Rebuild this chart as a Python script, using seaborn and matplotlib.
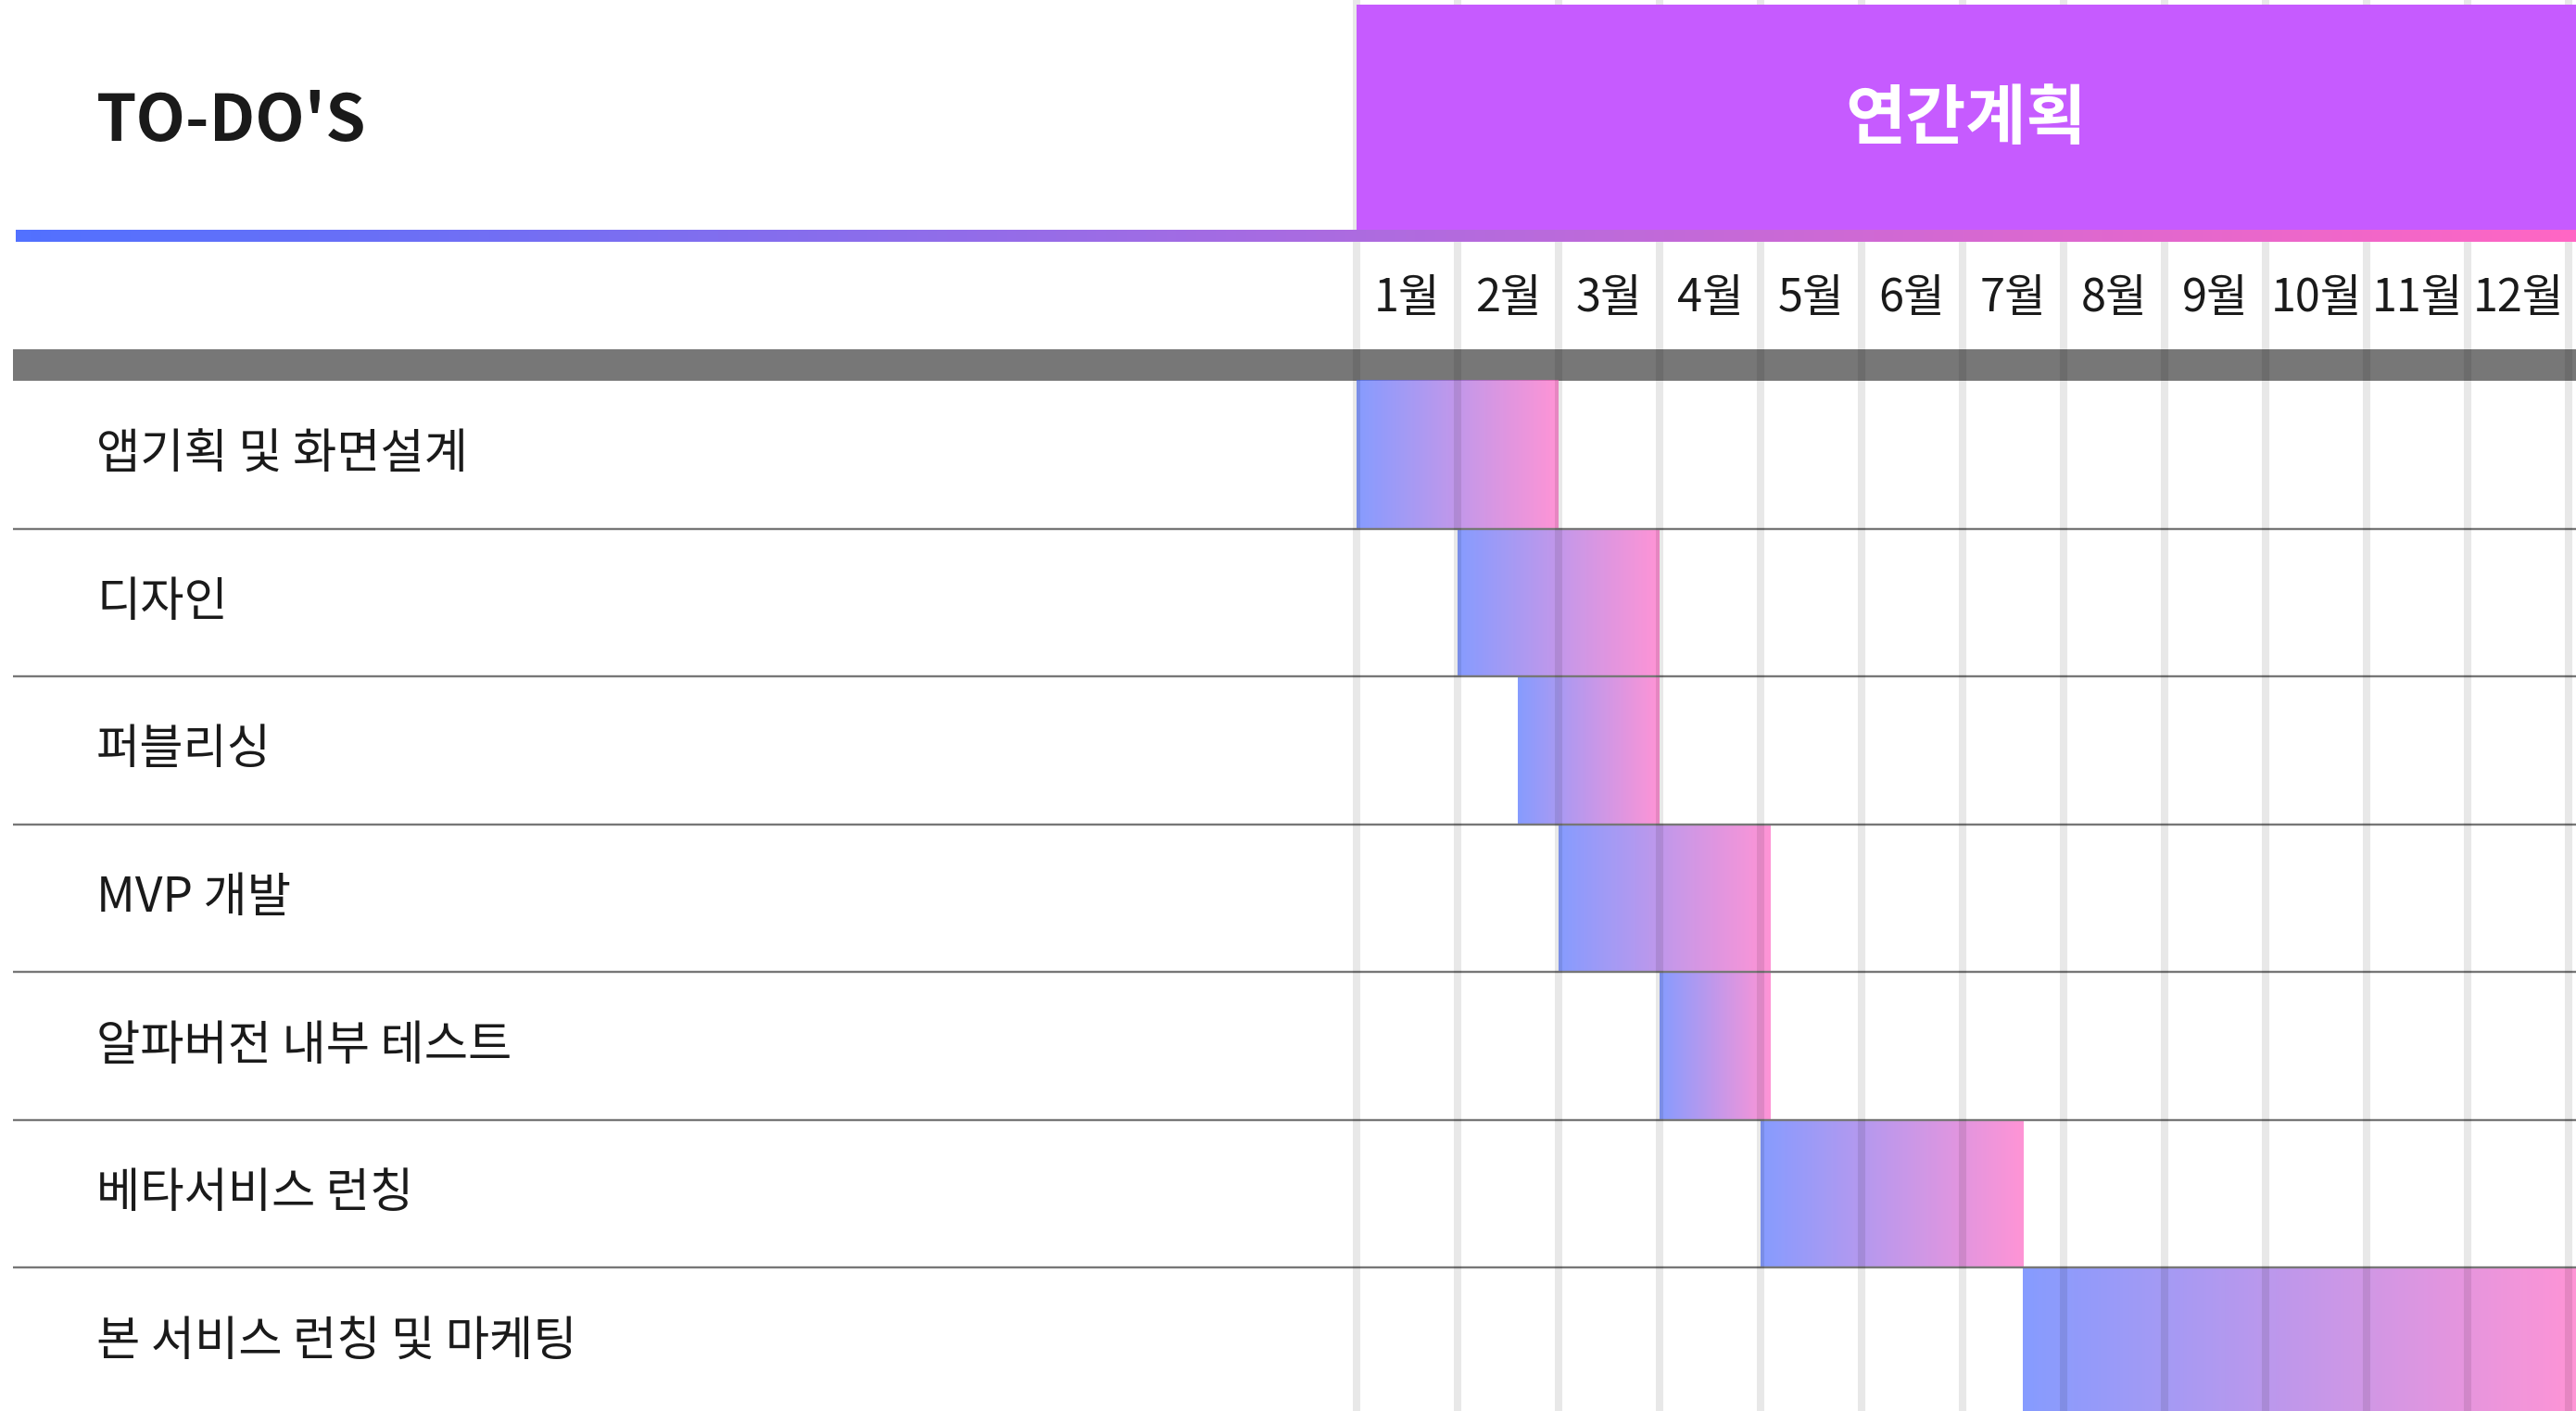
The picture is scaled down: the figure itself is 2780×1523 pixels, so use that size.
import numpy as np
import matplotlib
matplotlib.use("Agg")
import matplotlib.pyplot as plt
from matplotlib.colors import LinearSegmentedColormap
from matplotlib.patches import Rectangle
import seaborn as sns

# data
tasks = ["앱기획 및 화면설계", "디자인", "퍼블리싱", "MVP 개발",
         "알파버전 내부 테스트", "베타서비스 런칭", "본 서비스 런칭 및 마케팅"]
start = [0, 1, 1.6, 2, 3, 4, 6.6]
end = [2, 3, 3, 4.1, 4.1, 6.6, 12.1]
months = ["1월", "2월", "3월", "4월", "5월", "6월",
          "7월", "8월", "9월", "10월", "11월", "12월"]

sns.set_theme(style="white")
plt.rcParams['font.family'] = ['Noto Sans CJK KR', 'DejaVu Sans']

W, H = 2780, 1523
X0_PX, MONTH_PX = 1464, 109
ROW_TOP_PX, ROW_PX = 411, 159.5


def px2x(px):
    return (px - X0_PX) / MONTH_PX


def px2y(py):
    return -0.5 + (py - ROW_TOP_PX) / ROW_PX


blue, pink, purple, gray = "#5271ff", "#ff66c4", "#c65bff", "#777777"
grad_cmap = LinearSegmentedColormap.from_list("bp", [blue, pink])
grad = np.linspace(0, 1, 256).reshape(1, -1)

fig = plt.figure(figsize=(W / 100, H / 100), dpi=100)
ax = fig.add_axes([0, 0, 1, 1])

durations = [e - s for s, e in zip(start, end)]
sns.barplot(x=durations, y=tasks, orient="h", width=1.0, color=blue,
            errorbar=None, ax=ax)

# gradient fill for each bar
for patch, s in zip(ax.patches, start):
    patch.set_x(s)
    x0, w = patch.get_x(), patch.get_width()
    y0, h = patch.get_y(), patch.get_height()
    ax.imshow(grad, extent=[x0, x0 + w, y0 + h, y0], cmap=grad_cmap,
              alpha=0.7, aspect="auto", interpolation="bicubic", zorder=2)
    patch.set_visible(False)

# header band and row separators
ax.axhspan(px2y(377), px2y(411), xmin=14 / W, xmax=1, color=gray, lw=0, zorder=1)
ax.hlines(np.arange(len(tasks) - 1) + 0.5, px2x(14), px2x(W),
          colors=gray, linewidth=1.7, zorder=3)

# month grid
ax.vlines(np.arange(len(months) + 1), px2y(0), px2y(H),
          colors=[(0, 0, 0, 0.09)], linewidth=5.8, zorder=4)

# purple header box + gradient rule
ax.add_patch(Rectangle((px2x(1464), px2y(248)), px2x(W) - px2x(1464),
                       px2y(5) - px2y(248), color=purple, lw=0, zorder=5))
ax.imshow(grad, extent=[px2x(17), px2x(W), px2y(261), px2y(248)],
          cmap=grad_cmap, aspect="auto", interpolation="bicubic", zorder=6)

# texts
ax.text(px2x(104), px2y(132), "TO-DO'S", ha="left", va="center",
        fontsize=50, fontweight="bold", color="#1a1a1a")
ax.text(px2x(2122), px2y(129), "연간계획", ha="center", va="center",
        fontsize=51, fontweight="bold", color="white", zorder=7)
for i, m in enumerate(months):
    ax.text(i + 0.5, px2y(322), m, ha="center", va="center",
            fontsize=35, color="#1a1a1a", zorder=7)
for i, t in enumerate(tasks):
    ax.text(px2x(104), i, t, ha="left", va="center",
            fontsize=37, color="#1a1a1a", zorder=7)

ax.set_xlim(px2x(0), px2x(W))
ax.set_ylim(px2y(H), px2y(0))
ax.axis("off")

fig.savefig("out.png", dpi=100)
